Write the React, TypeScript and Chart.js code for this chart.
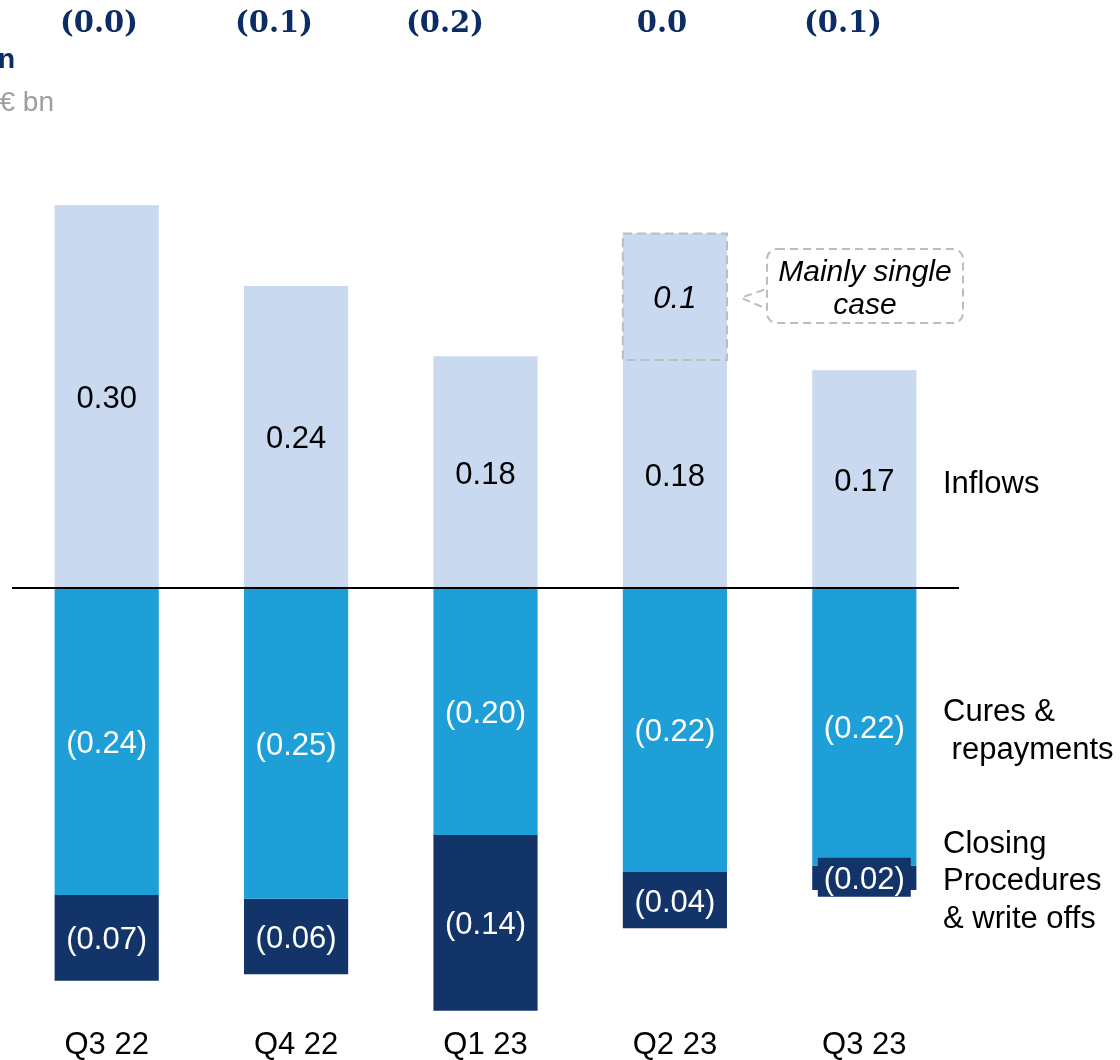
import React, { useEffect, useRef } from "react";
import { Chart, registerables } from "chart.js";

Chart.register(...registerables);

const categories = ["Q3 22", "Q4 22", "Q1 23", "Q2 23", "Q3 23"];
const inflows = [0.299, 0.236, 0.181, 0.178, 0.17];
const singleCase = [0, 0, 0, 0.099, 0];
const cures = [-0.24, -0.243, -0.193, -0.222, -0.217];
const closing = [-0.067, -0.059, -0.1375, -0.044, -0.019];

const inflowLabels = ["0.30", "0.24", "0.18", "0.18", "0.17"];
const singleCaseLabels = ["", "", "", "0.1", ""];
const cureLabels = ["(0.24)", "(0.25)", "(0.20)", "(0.22)", "(0.22)"];
const closingLabels = ["(0.07)", "(0.06)", "(0.14)", "(0.04)", "(0.02)"];
const netChangeLabels = ["(0.0)", "(0.1)", "(0.2)", "0.0", "(0.1)"];

const inflowsName = ["Inflows"];
const curesName = ["Cures &", " repayments"];
const closingName = ["Closing", "Procedures", "& write offs"];
const calloutText = ["Mainly single", "case"];
const titleText = "n";
const unitText = "€ bn";

const LIGHT = "#C8D9F0";
const CYAN = "#1E9FD8";
const NAVY = "#133468";
const HEAD = "#0C2C66";
const SANS = "'Liberation Sans', Arial, sans-serif";

const overlayPlugin = {
  id: "overlay",
  afterDatasetsDraw(chart: any) {
    const ctx = chart.ctx;
    const area = chart.chartArea;
    const y0 = chart.scales.y.getPixelForValue(0);

    // zero line
    ctx.save();
    ctx.strokeStyle = "#000";
    ctx.lineWidth = 2;
    ctx.beginPath();
    ctx.moveTo(area.left, y0);
    ctx.lineTo(area.right, y0);
    ctx.stroke();
    ctx.restore();

    const labelSets = [inflowLabels, singleCaseLabels, cureLabels, closingLabels];
    const colors = ["#000", "#000", "#fff", "#fff"];
    labelSets.forEach((labels, di) => {
      const meta = chart.getDatasetMeta(di);
      meta.data.forEach((el: any, i: number) => {
        const txt = labels[i];
        if (!txt) return;
        const cy = (el.y + el.base) / 2;
        ctx.save();
        if (di === 1) {
          // dashed outline around the single-case segment
          ctx.strokeStyle = "#BDBDBD";
          ctx.lineWidth = 2;
          ctx.setLineDash([9, 5]);
          ctx.strokeRect(el.x - el.width / 2, el.y, el.width, el.base - el.y);
          ctx.setLineDash([]);
          ctx.font = `italic 31px ${SANS}`;
        } else {
          ctx.font = `31px ${SANS}`;
        }
        const h = Math.abs(el.base - el.y);
        if (di === 3 && h < 30) {
          const w = ctx.measureText(txt).width + 12;
          ctx.fillStyle = NAVY;
          ctx.fillRect(el.x - w / 2, cy - 20, w, 39);
        }
        ctx.fillStyle = colors[di];
        ctx.textAlign = "center";
        ctx.textBaseline = "middle";
        ctx.fillText(txt, el.x, cy + 3);
        ctx.restore();

        if (di === 1) {
          // callout
          const tipX = el.x + el.width / 2 + 14;
          const tipY = cy + 1;
          const bx = tipX + 26;
          const by = 249;
          const bw = 196;
          const bh = 74;
          ctx.save();
          ctx.strokeStyle = "#BDBDBD";
          ctx.lineWidth = 2;
          ctx.setLineDash([8, 5]);
          ctx.beginPath();
          ctx.roundRect(bx, by, bw, bh, 10);
          ctx.stroke();
          ctx.beginPath();
          ctx.moveTo(bx - 3, tipY - 8);
          ctx.lineTo(tipX, tipY);
          ctx.lineTo(bx - 3, tipY + 10);
          ctx.stroke();
          ctx.setLineDash([]);
          ctx.fillStyle = "#000";
          ctx.font = `italic 30px ${SANS}`;
          ctx.textAlign = "center";
          ctx.textBaseline = "middle";
          ctx.fillText(calloutText[0], bx + bw / 2, 273);
          ctx.fillText(calloutText[1], bx + bw / 2, 306);
          ctx.restore();
        }
      });
    });

    // net change header
    const headX = [99, 274, 445, 662, 843];
    ctx.save();
    ctx.fillStyle = HEAD;
    ctx.font = `bold 29px 'DejaVu Serif', serif`;
    ctx.textAlign = "center";
    ctx.textBaseline = "middle";
    netChangeLabels.forEach((t, i) => ctx.fillText(t, headX[i], 24));
    ctx.restore();

    // title fragments
    ctx.save();
    ctx.textBaseline = "middle";
    ctx.textAlign = "right";
    ctx.fillStyle = HEAD;
    ctx.font = `bold 28px ${SANS}`;
    ctx.fillText(titleText, 15, 60);
    ctx.fillStyle = "#9E9E9E";
    ctx.font = `28px ${SANS}`;
    ctx.fillText(unitText, 54, 103);
    ctx.restore();

    // series names at right
    ctx.save();
    ctx.fillStyle = "#000";
    ctx.font = `31px ${SANS}`;
    ctx.textAlign = "left";
    ctx.textBaseline = "middle";
    const nx = 943;
    inflowsName.forEach((t, i) => ctx.fillText(t, nx, 484 + i * 38));
    curesName.forEach((t, i) => ctx.fillText(t, nx, 712 + i * 38));
    closingName.forEach((t, i) => ctx.fillText(t, nx, 844 + i * 37.5));
    ctx.restore();
  },
};

export default function App() {
  const ref = useRef<HTMLCanvasElement | null>(null);
  useEffect(() => {
    if (!ref.current) return;
    const chart = new Chart(ref.current, {
      type: "bar",
      data: {
        labels: categories,
        datasets: [
          { label: "Inflows", data: inflows, backgroundColor: LIGHT },
          { label: "Single case", data: singleCase, backgroundColor: LIGHT },
          { label: "Cures & repayments", data: cures, backgroundColor: CYAN },
          { label: "Closing procedures & write offs", data: closing, backgroundColor: NAVY },
        ],
      },
      options: {
        responsive: false,
        animation: false,
        devicePixelRatio: 1,
        layout: { padding: { left: 12, right: 161, top: 76, bottom: 0 } },
        datasets: {
          bar: { barPercentage: 0.55, categoryPercentage: 1, borderWidth: 0 },
        },
        plugins: {
          legend: { display: false },
          tooltip: { enabled: false },
          title: { display: false },
        },
        scales: {
          x: {
            stacked: true,
            grid: { display: false, drawTicks: false },
            border: { display: false },
            ticks: {
              color: "#000",
              padding: 4,
              font: { family: SANS, size: 31 },
            },
            afterFit: (s: any) => {
              s.height = 37;
            },
          },
          y: {
            stacked: true,
            display: false,
            min: -0.34,
            max: 0.4,
          },
        },
      },
      plugins: [overlayPlugin],
    });
    return () => chart.destroy();
  }, []);
  return (
    <div style={{ position: "absolute", left: 0, top: 0, width: 1120, height: 1060, background: "#fff" }}>
      <canvas ref={ref} width={1120} height={1060} style={{ width: 1120, height: 1060, display: "block" }} />
    </div>
  );
}
